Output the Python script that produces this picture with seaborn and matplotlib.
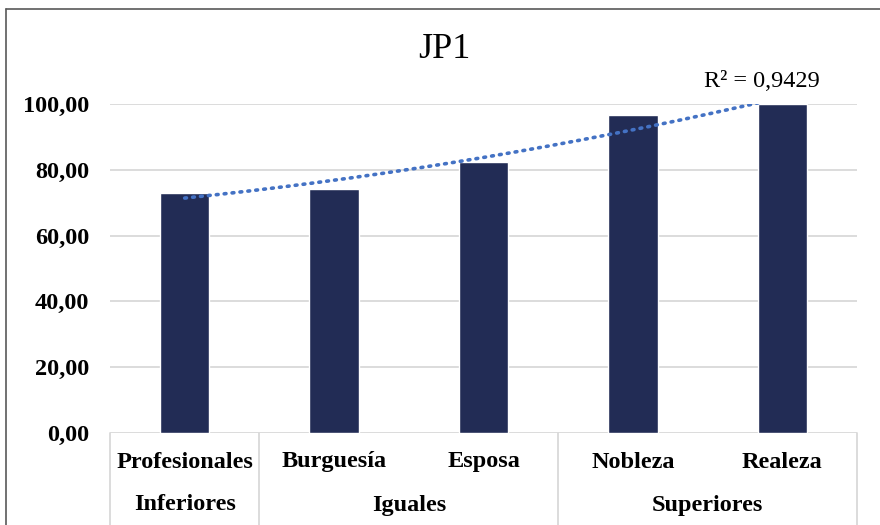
import numpy as np
import pandas as pd
import matplotlib
matplotlib.use("Agg")
import matplotlib.pyplot as plt
from matplotlib.lines import Line2D
from matplotlib.ticker import FuncFormatter
import seaborn as sns

# Data
categories = ["Profesionales", "Burguesía", "Esposa", "Nobleza", "Realeza"]
groups = ["Inferiores", "Iguales", "Iguales", "Superiores", "Superiores"]
values = [73.0, 74.1, 82.4, 96.7, 100.0]
title = "JP1"
r2_label = "R² = 0,9429"

sns.set_theme(style="white")
plt.rcParams["font.family"] = ["Liberation Serif", "DejaVu Serif"]
plt.rcParams["text.color"] = "black"
plt.rcParams["ytick.color"] = "black"

W, H = 880, 525
fig = plt.figure(figsize=(W / 100, H / 100), dpi=100)
ax = fig.add_axes([110 / W, 1 - 433 / H, (857 - 110) / W, (433 - 104) / H])

df = pd.DataFrame({"categoria": categories, "valor": values})
sns.barplot(data=df, x="categoria", y="valor", color="#222c55", saturation=1,
            width=0.33, ax=ax, zorder=3)

# Second-order polynomial trend line
xs = np.arange(len(values))
coef = np.polyfit(xs, values, 2)
xf = np.linspace(0, len(values) - 1, 200)
ax.plot(xf, np.polyval(coef, xf), linestyle=(0, (0.5, 1.7)), color="#4472c4",
        linewidth=2.6, dash_capstyle="round", zorder=4)
ax.text(3.86, 103.5, r2_label, fontsize=17.5, ha="center", va="bottom",
        color="black", clip_on=False)

ax.set_ylim(0, 100)
ax.set_xlim(-0.5, len(values) - 0.5)
ax.set_yticks(np.arange(0, 101, 20))
ax.yaxis.set_major_formatter(FuncFormatter(lambda v, p: f"{v:.2f}".replace(".", ",")))
for lbl in ax.get_yticklabels():
    lbl.set_fontweight("bold")
    lbl.set_fontsize(17.5)
    lbl.set_color("black")
ax.tick_params(axis="y", length=0, pad=15)
ax.grid(axis="y", color="#d9d9d9", linewidth=1.3, zorder=0)
ax.set_axisbelow(True)
for s in ax.spines.values():
    s.set_visible(False)
ax.set_xlabel("")
ax.set_ylabel("")
ax.set_xticks([])

# Title centred on the chart area
fig.text(444 / W, 1 - 50 / H, title, fontsize=26, ha="center", va="center",
         color="black")

# Multi-level category axis
trans = ax.get_xaxis_transform()
row1 = -(462 - 433) / (433 - 104)
row2 = -(505 - 433) / (433 - 104)
bottom = -(525 - 433) / (433 - 104)
for i, c in enumerate(categories):
    ax.text(i, row1, c, transform=trans, ha="center", va="center",
            fontsize=17.5, fontweight="bold", color="black")
# group spans
spans = []
start = 0
for i in range(1, len(groups) + 1):
    if i == len(groups) or groups[i] != groups[start]:
        spans.append((groups[start], start, i - 1))
        start = i
bounds = [-0.5] + [e + 0.5 for _, _, e in spans]
for g, s, e in spans:
    ax.text((s + e) / 2, row2, g, transform=trans, ha="center", va="center",
            fontsize=17.5, fontweight="bold", color="black")
for b in bounds:
    ax.plot([b, b], [0, bottom], transform=trans, color="#d9d9d9",
            linewidth=1.3, clip_on=False)

# Chart border
fig.add_artist(Line2D([6 / W, 6 / W], [0, 1 - 9 / H], color="#595959", linewidth=1.2))
fig.add_artist(Line2D([6 / W, 1], [1 - 9 / H, 1 - 9 / H], color="#595959", linewidth=1.2))

fig.savefig("out.png", dpi=100, facecolor="white")
